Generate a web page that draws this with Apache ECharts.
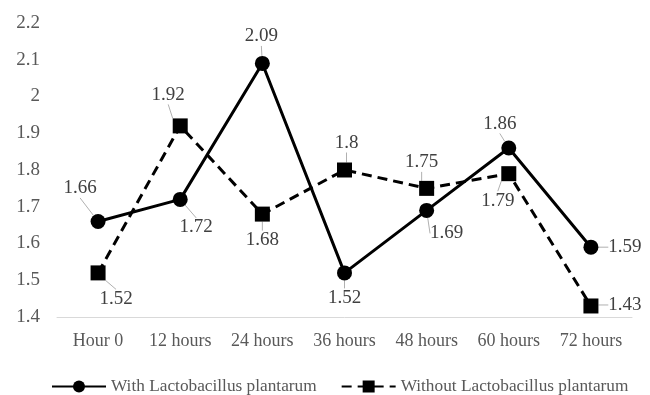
<!DOCTYPE html>
<html><head><meta charset="utf-8">
<script src="https://cdn.jsdelivr.net/npm/echarts@6/dist/echarts.min.js"></script>
<style>html,body{margin:0;padding:0;background:#fff}#c{width:650px;height:395px}</style>
</head><body><div id="c"></div>
<script>
var categories = ['Hour 0','12 hours','24 hours','36 hours','48 hours','60 hours','72 hours'];
var withLP = [1.66, 1.72, 2.09, 1.52, 1.69, 1.86, 1.59];
var withoutLP = [1.52, 1.92, 1.68, 1.8, 1.75, 1.79, 1.43];
var seriesNames = ['With Lactobacillus plantarum','Without Lactobacillus plantarum'];

// label offsets (style) relative to point centre
var offsets = [
  [[-18,-33],[16,28],[-1,-27],[0,25],[20,23],[-9,-24],[34,0]],
  [[18,26],[-12,-31],[0,26],[2,-27],[-5,-26],[-11,27],[34,-1]]
];
var font = '"Liberation Serif","Times New Roman",serif';
var chart = echarts.init(document.getElementById('c'));
function mk(i, data, symbol, size, dash){
  return {
    name: seriesNames[i], type:'line', data:data, symbol:symbol, symbolSize:size,
    lineStyle:{color:'#000', width:3, type:dash},
    itemStyle:{color:'#000'},
    label:{show:true, position:'inside', color:'#404040', fontFamily:font, fontSize:19},
    labelLine:{show:true, lineStyle:{color:'#b0b0b0', width:1}},
    labelLayout:function(p){
      var o = offsets[i][p.dataIndex];
      return {x: p.rect.x + p.rect.width/2 + o[0], y: p.rect.y + p.rect.height/2 + o[1], align:'center', verticalAlign:'middle'};
    },
    z: i===0?3:2
  };
}
chart.setOption({
  animation:false,
  grid:{left:57, right:18, top:23, bottom:78},
  xAxis:{type:'category', data:categories, boundaryGap:true,
    axisLine:{lineStyle:{color:'#d9d9d9'}}, axisTick:{show:false},
    axisLabel:{interval:0, hideOverlap:false, color:'#595959', fontFamily:font, fontSize:18, margin:15}},
  yAxis:{type:'value', min:1.4, max:2.2, interval:0.1,
    axisLine:{show:false}, axisTick:{show:false}, splitLine:{show:false},
    axisLabel:{color:'#595959', fontFamily:font, fontSize:19, margin:17,
      formatter:function(v){return String(Math.round(v*10)/10);}}},
  legend:{top:373, left:46, itemWidth:54, itemHeight:15, itemGap:24,
    textStyle:{color:'#595959', fontFamily:font, fontSize:17.3},
    data:[seriesNames[0], seriesNames[1]]},
  series:[mk(0, withLP, 'circle', 15, 'solid'), mk(1, withoutLP, 'rect', 15, [10,6])]
});
</script></body></html>
